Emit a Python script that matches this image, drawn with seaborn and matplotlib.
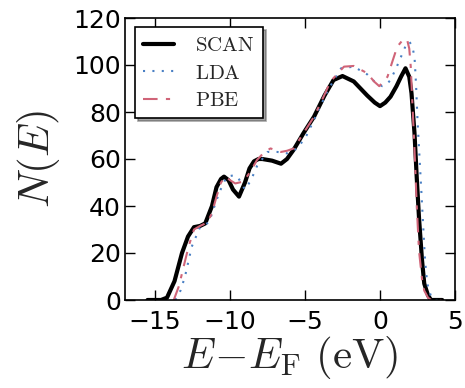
import numpy as np
import pandas as pd
import matplotlib
matplotlib.use("Agg")
import matplotlib.pyplot as plt
import seaborn as sns

scan_x = [-15.5, -14.6, -14.2, -13.7, -13.2, -12.8, -12.4, -12.0, -11.65, -11.2, -10.9, -10.6, -10.4, -10.1, -9.8, -9.4, -9.0, -8.7, -8.4, -8.1, -7.85, -7.2, -6.6, -6.2, -5.75, -5.1, -4.4, -3.7, -3.1, -2.5, -1.75, -0.85, -0.35, 0.0, 0.35, 0.7, 1.1, 1.4, 1.7, 1.95, 2.1, 2.3, 2.45, 2.6, 2.8, 2.95, 3.2, 3.4, 4.15]
scan_y = [0.0, 0.0, 1.0, 8.0, 20.0, 27.0, 31.0, 31.5, 32.6, 40.0, 48.0, 51.5, 52.5, 51.0, 47.0, 44.0, 50.0, 56.0, 59.0, 60.0, 60.0, 59.3, 58.0, 60.0, 64.0, 71.0, 78.0, 87.0, 93.6, 95.3, 93.0, 87.0, 84.0, 82.5, 84.0, 86.5, 91.0, 95.0, 98.6, 95.0, 88.0, 71.0, 52.0, 35.0, 17.0, 7.0, 2.0, 0.0, 0.0]

lda_x = [-13.65, -13.3, -13.0, -12.55, -12.0, -11.4, -10.9, -10.5, -10.2, -9.8, -9.5, -9.0, -8.6, -8.2, -7.5, -6.85, -6.2, -5.5, -4.9, -4.4, -3.5, -2.6, -1.75, -0.85, -0.3, 0.15, 0.4, 0.7, 1.1, 1.4, 1.7, 1.95, 2.15, 2.3, 2.4, 2.5, 2.7, 2.85, 3.0, 3.15, 3.4, 3.6, 4.1]
lda_y = [0.0, 4.0, 10.0, 22.7, 31.0, 33.0, 42.5, 49.0, 52.5, 53.0, 52.5, 47.0, 51.0, 57.0, 63.0, 63.0, 62.4, 64.5, 70.0, 76.6, 89.0, 98.6, 99.3, 96.0, 92.5, 91.0, 91.5, 93.6, 99.0, 103.5, 108.0, 110.0, 108.0, 103.5, 92.0, 76.6, 53.0, 35.0, 17.0, 7.0, 1.5, 0.0, 0.0]

pbe_x = [-13.75, -13.4, -13.1, -12.75, -12.4, -12.0, -11.5, -11.2, -10.9, -10.6, -10.3, -10.0, -9.65, -9.1, -8.6, -8.2, -7.7, -7.3, -6.6, -6.2, -5.75, -5.1, -4.4, -3.8, -3.3, -2.4, -1.75, -0.85, -0.4, -0.05, 0.5, 0.8, 1.15, 1.5, 1.8, 1.95, 2.05, 2.15, 2.3, 2.45, 2.6, 2.8, 2.95, 3.2, 3.4, 4.1]
pbe_y = [0.0, 6.0, 14.0, 23.0, 30.0, 31.5, 33.0, 37.0, 44.0, 50.0, 52.5, 51.0, 49.6, 50.4, 55.0, 59.6, 63.0, 64.5, 63.0, 63.5, 64.5, 71.0, 78.0, 86.0, 93.0, 99.3, 99.6, 96.5, 93.0, 91.0, 95.0, 101.0, 107.8, 110.5, 111.0, 107.0, 99.3, 85.0, 64.0, 40.0, 21.0, 9.0, 4.0, 1.0, 0.0, 0.0]

x_ticks = [-15, -10, -5, 0, 5]
y_ticks = [0, 20, 40, 60, 80, 100, 120]

sns.set_theme(style="white")
plt.rcParams["mathtext.fontset"] = "cm"
plt.rcParams["font.family"] = ["DejaVu Sans"]

fig = plt.figure(figsize=(4.65, 3.88), dpi=100)
ax = fig.add_axes([125/465, 1 - 300/388, 330/465, 282/388])

df_scan = pd.DataFrame({"x": scan_x, "y": scan_y})
df_lda = pd.DataFrame({"x": lda_x, "y": lda_y})
df_pbe = pd.DataFrame({"x": pbe_x, "y": pbe_y})

sns.lineplot(data=df_scan, x="x", y="y", ax=ax, color="black", lw=3, label=r"$\mathrm{SCAN}$", sort=False)
sns.lineplot(data=df_lda, x="x", y="y", ax=ax, color="#4a80c4", lw=1.5, linestyle=(0, (1, 3.5)), label=r"$\mathrm{LDA}$", sort=False)
sns.lineplot(data=df_pbe, x="x", y="y", ax=ax, color="#d06478", lw=1.5, linestyle=(0, (7, 4, 2, 4)), label=r"$\mathrm{PBE}$", sort=False)

ax.set_xlim(-17, 5)
ax.set_ylim(0, 120)
ax.set_xticks(x_ticks)
ax.set_yticks(y_ticks)
ax.set_xticklabels([f"\u2212{abs(t)}" if t < 0 else str(t) for t in x_ticks])
ax.tick_params(direction="in", length=7, width=1, labelsize=18, top=True, right=True, bottom=True, left=True, colors="black")
ax.tick_params(axis="x", pad=7)
ax.tick_params(axis="y", pad=3)
for s in ax.spines.values():
    s.set_color("black")
    s.set_linewidth(1.2)

ax.set_xlabel(r"$E\!-\!E_{\mathrm{F}}\ (\mathrm{eV})$", fontsize=31, labelpad=0)
ax.set_ylabel(r"$N(E)$", fontsize=31, labelpad=8)

leg = ax.legend(loc="upper left", fontsize=15, frameon=True, fancybox=False, shadow=True,
                handlelength=1.5, borderpad=0.4, labelspacing=0.35, handletextpad=1.0,
                borderaxespad=0, bbox_to_anchor=(0.03, 0.968))
leg.get_frame().set_edgecolor("black")
leg.get_frame().set_linewidth(1.2)

fig.savefig("out.png", dpi=100)
